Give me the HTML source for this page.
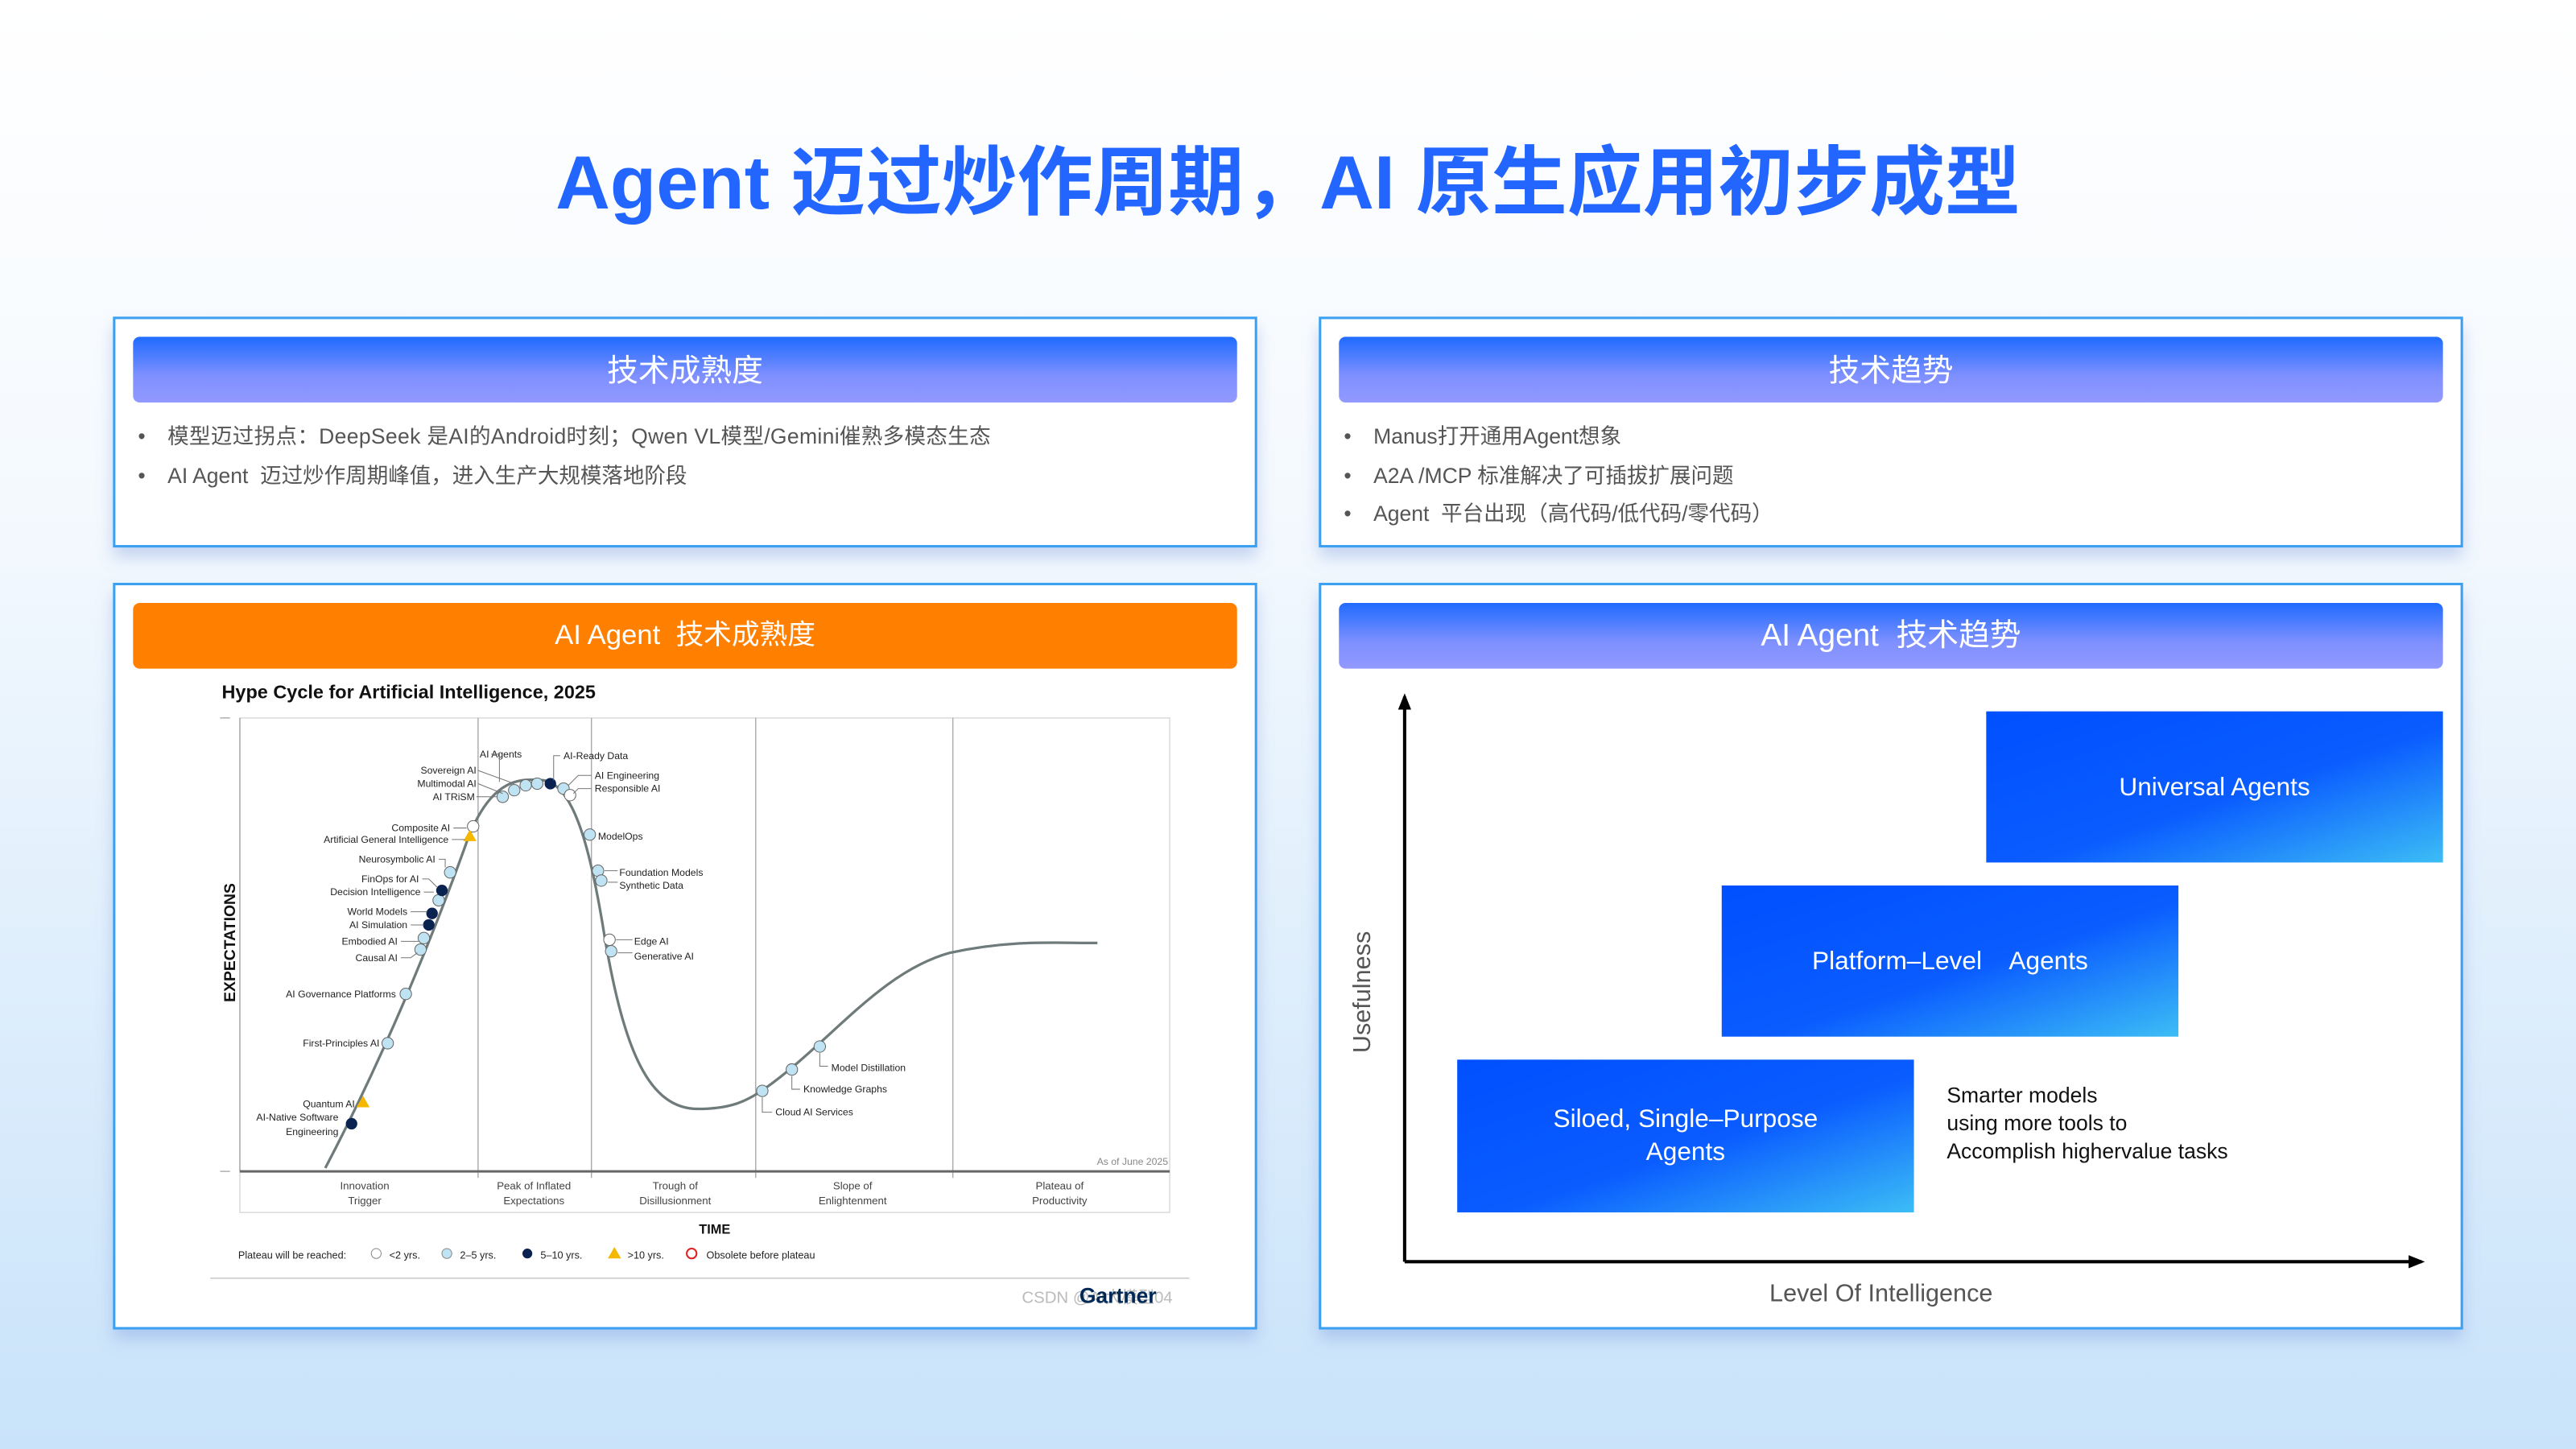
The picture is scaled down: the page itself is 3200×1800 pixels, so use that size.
<!DOCTYPE html>
<html><head><meta charset="utf-8">
<style>
html,body{margin:0;padding:0;width:3200px;height:1800px;overflow:hidden;}
svg{display:block;}
text{font-family:"Liberation Sans","Noto Sans CJK SC",sans-serif;white-space:pre;}
</style></head>
<body>
<svg width="3200" height="1800" viewBox="0 0 1568 882" xmlns="http://www.w3.org/2000/svg" xml:space="preserve">
<defs>
<linearGradient id="bg" x1="0" y1="0" x2="0" y2="1">
<stop offset="0" stop-color="#ffffff"/><stop offset="0.35" stop-color="#f4f9fe"/><stop offset="1" stop-color="#c9e3fa"/>
</linearGradient>
<linearGradient id="hdr" x1="0" y1="0" x2="0" y2="1">
<stop offset="0" stop-color="#1f6bff"/><stop offset="0.6" stop-color="#7f90ff"/><stop offset="1" stop-color="#9299ff"/>
</linearGradient>
<linearGradient id="box" x1="0" y1="0" x2="1" y2="1">
<stop offset="0" stop-color="#0050ff"/><stop offset="0.55" stop-color="#0a5cff"/><stop offset="1" stop-color="#3cbdf5"/>
</linearGradient>
<filter id="sh" x="-5%" y="-5%" width="110%" height="125%"><feDropShadow dx="0" dy="6" stdDeviation="5" flood-color="#6d8fd8" flood-opacity="0.35"/></filter>
<marker id="ar" markerWidth="5" markerHeight="5" refX="4" refY="2.5" orient="auto"><path d="M0,0.5 L5,2.5 L0,4.5 z" fill="#000"/></marker>
</defs>
<rect width="1568" height="882" fill="url(#bg)"/>
<text x="784" y="127" text-anchor="middle" font-size="46" font-weight="bold" fill="#2266ff">Agent 迈过炒作周期，AI 原生应用初步成型</text>

<rect x="69.5" y="193.5" width="695" height="139" fill="#fff" stroke="#3aa0f2" stroke-width="1.5" filter="url(#sh)"/>
<rect x="803.5" y="193.5" width="695" height="139" fill="#fff" stroke="#3aa0f2" stroke-width="1.5" filter="url(#sh)"/>
<rect x="69.5" y="355.5" width="695" height="453" fill="#fff" stroke="#3aa0f2" stroke-width="1.5" filter="url(#sh)"/>
<rect x="803.5" y="355.5" width="695" height="453" fill="#fff" stroke="#3aa0f2" stroke-width="1.5" filter="url(#sh)"/>

<rect x="81" y="205" width="672" height="40" rx="4" fill="url(#hdr)"/>
<text x="417" y="232" text-anchor="middle" font-size="19" fill="#fff">技术成熟度</text>
<rect x="815" y="205" width="672" height="40" rx="4" fill="url(#hdr)"/>
<text x="1151" y="232" text-anchor="middle" font-size="19" fill="#fff">技术趋势</text>
<rect x="81" y="367" width="672" height="40" rx="4" fill="#ff8000"/>
<text x="417" y="392" text-anchor="middle" font-size="17" fill="#fff">AI Agent  技术成熟度</text>
<rect x="815" y="367" width="672" height="40" rx="4" fill="url(#hdr)"/>
<text x="1151" y="393" text-anchor="middle" font-size="19" fill="#fff">AI Agent  技术趋势</text>

<g font-size="13" fill="#555">
<text x="84" y="270">•</text><text x="102" y="270" textLength="501">模型迈过拐点：DeepSeek 是AI的Android时刻；Qwen VL模型/Gemini催熟多模态生态</text>
<text x="84" y="294">•</text><text x="102" y="294">AI Agent  迈过炒作周期峰值，进入生产大规模落地阶段</text>
<text x="818" y="270">•</text><text x="836" y="270">Manus打开通用Agent想象</text>
<text x="818" y="294">•</text><text x="836" y="294">A2A /MCP 标准解决了可插拔扩展问题</text>
<text x="818" y="317">•</text><text x="836" y="317">Agent  平台出现（高代码/低代码/零代码）</text>
</g>

<text x="135" y="425" font-size="11.5" font-weight="bold" fill="#111">Hype Cycle for Artificial Intelligence, 2025</text>
<rect x="146" y="437" width="566" height="301" fill="#fff" stroke="#ddd" stroke-width="0.8"/>
<g stroke="#aaa" stroke-width="0.7">
<line x1="146" y1="437" x2="146" y2="713"/>
<line x1="291" y1="437" x2="291" y2="717"/>
<line x1="360" y1="437" x2="360" y2="717"/>
<line x1="460" y1="437" x2="460" y2="717"/>
<line x1="580" y1="437" x2="580" y2="717"/>
<line x1="134" y1="437" x2="140" y2="437"/>
<line x1="134" y1="713" x2="140" y2="713"/>
</g>
<line x1="146" y1="713" x2="712" y2="713" stroke="#666" stroke-width="1.5"/>
<text transform="translate(143,610) rotate(-90)" font-size="9.5" font-weight="bold" fill="#111">EXPECTATIONS</text>
<path d="M198,711 C 230,650 260,580 285,510 C 300,472 318,474 331,475 C 350,478 360,520 368,570 C 380,640 395,675 425,675 C 445,675 455,670 465,663 C 505,635 535,592 578,580 C 615,572 640,574 668,574" fill="none" stroke="#6f7b7b" stroke-width="1.6"/>
<g stroke="#666" stroke-width="0.5">
<circle cx="236" cy="635" r="3.5" fill="#bfe3f2"/>
<circle cx="247" cy="605" r="3.5" fill="#bfe3f2"/>
<circle cx="256" cy="578" r="3.5" fill="#bfe3f2"/>
<circle cx="258" cy="571" r="3.5" fill="#bfe3f2"/>
<circle cx="267" cy="548" r="3.5" fill="#bfe3f2"/>
<circle cx="274" cy="531" r="3.5" fill="#bfe3f2"/>
<circle cx="288" cy="503" r="3.5" fill="#fff"/>
<circle cx="306" cy="485" r="3.5" fill="#bfe3f2"/>
<circle cx="313" cy="481" r="3.5" fill="#bfe3f2"/>
<circle cx="320" cy="478" r="3.5" fill="#bfe3f2"/>
<circle cx="327" cy="477" r="3.5" fill="#bfe3f2"/>
<circle cx="343" cy="480" r="3.5" fill="#bfe3f2"/>
<circle cx="347" cy="484" r="3.5" fill="#fff"/>
<circle cx="359" cy="508" r="3.5" fill="#bfe3f2"/>
<circle cx="364" cy="530" r="3.5" fill="#bfe3f2"/>
<circle cx="366" cy="536" r="3.5" fill="#bfe3f2"/>
<circle cx="371" cy="572" r="3.5" fill="#fff"/>
<circle cx="372" cy="579" r="3.5" fill="#bfe3f2"/>
<circle cx="464" cy="664" r="3.5" fill="#bfe3f2"/>
<circle cx="482" cy="651" r="3.5" fill="#bfe3f2"/>
<circle cx="499" cy="637" r="3.5" fill="#bfe3f2"/>
</g>
<g fill="#0a2250">
<circle cx="214" cy="684" r="3.5"/><circle cx="261" cy="563" r="3.5"/><circle cx="263" cy="556" r="3.5"/>
<circle cx="269" cy="542" r="3.5"/><circle cx="335" cy="477" r="3.5"/>
</g>
<g fill="#f5b800"><path d="M221,667 L225,674 L217,674z"/><path d="M286,505 L290,512 L282,512z"/></g>
<g font-size="6" fill="#222">
<text x="292" y="461">AI Agents</text><text x="343" y="462">AI-Ready Data</text>
<text x="290" y="471" text-anchor="end">Sovereign AI</text>
<text x="290" y="479" text-anchor="end">Multimodal AI</text>
<text x="289" y="487" text-anchor="end">AI TRiSM</text>
<text x="362" y="474">AI Engineering</text><text x="362" y="482">Responsible AI</text>
<text x="274" y="506" text-anchor="end">Composite AI</text>
<text x="273" y="513" text-anchor="end">Artificial General Intelligence</text>
<text x="265" y="525" text-anchor="end">Neurosymbolic AI</text>
<text x="255" y="537" text-anchor="end">FinOps for AI</text>
<text x="256" y="545" text-anchor="end">Decision Intelligence</text>
<text x="248" y="557" text-anchor="end">World Models</text>
<text x="248" y="565" text-anchor="end">AI Simulation</text>
<text x="242" y="575" text-anchor="end">Embodied AI</text>
<text x="242" y="585" text-anchor="end">Causal AI</text>
<text x="241" y="607" text-anchor="end">AI Governance Platforms</text>
<text x="231" y="637" text-anchor="end">First-Principles AI</text>
<text x="216" y="674" text-anchor="end">Quantum AI</text>
<text x="206" y="682" text-anchor="end">AI-Native Software</text>
<text x="206" y="691" text-anchor="end">Engineering</text>
<text x="364" y="511">ModelOps</text>
<text x="377" y="533">Foundation Models</text><text x="377" y="541">Synthetic Data</text>
<text x="386" y="575">Edge AI</text><text x="386" y="584">Generative AI</text>
<text x="506" y="652">Model Distillation</text>
<text x="489" y="665">Knowledge Graphs</text>
<text x="472" y="679">Cloud AI Services</text>
<text x="711" y="709" text-anchor="end" fill="#888">As of June 2025</text>
</g>
<g fill="none" stroke="#777" stroke-width="0.5">
<path d="M299,459 h5 v17"/><path d="M341,460 h-4 v15"/>
<path d="M291,469 l22,8"/><path d="M291,477 l15,6"/><path d="M290,485 h13"/>
<path d="M360,472 h-8 l-6,6"/><path d="M360,480 h-8 l-3,3"/>
<path d="M276,504 h8"/><path d="M275,511 h8"/>
<path d="M267,523 h4 v5"/><path d="M257,535 h4 l5,5"/><path d="M258,543 h6"/>
<path d="M250,555 h10"/><path d="M250,563 h8"/><path d="M244,573 h11"/><path d="M244,583 h6 l4,-3"/>
<path d="M368,530 h8"/><path d="M370,537 h6"/><path d="M375,572 h10"/><path d="M376,580 h9"/>
<path d="M499,641 v8 h5"/><path d="M482,655 v8 h5"/><path d="M464,668 v9 h6"/>
</g>
<g font-size="6.5" fill="#444" text-anchor="middle">
<text x="222" y="724">Innovation</text><text x="222" y="733">Trigger</text>
<text x="325" y="724">Peak of Inflated</text><text x="325" y="733">Expectations</text>
<text x="411" y="724">Trough of</text><text x="411" y="733">Disillusionment</text>
<text x="519" y="724">Slope of</text><text x="519" y="733">Enlightenment</text>
<text x="645" y="724">Plateau of</text><text x="645" y="733">Productivity</text>
</g>
<text x="435" y="751" text-anchor="middle" font-size="8" font-weight="bold" fill="#111">TIME</text>
<g font-size="6.2" fill="#222">
<text x="145" y="766">Plateau will be reached:</text>
<circle cx="229" cy="763" r="3" fill="#fff" stroke="#888" stroke-width="0.5"/><text x="237" y="766">&lt;2 yrs.</text>
<circle cx="272" cy="763" r="3" fill="#bfe3f2" stroke="#888" stroke-width="0.5"/><text x="280" y="766">2–5 yrs.</text>
<circle cx="321" cy="763" r="3" fill="#0a2250"/><text x="329" y="766">5–10 yrs.</text>
<path d="M374,759 L378,766 L370,766z" fill="#f5b800"/><text x="382" y="766">&gt;10 yrs.</text>
<circle cx="421" cy="763" r="3" fill="#fff" stroke="#e02020" stroke-width="1"/><text x="430" y="766">Obsolete before plateau</text>
</g>
<line x1="128" y1="778" x2="724" y2="778" stroke="#ccc" stroke-width="0.8"/>
<text x="622" y="793" font-size="10" fill="#bbb">CSDN @AI大模型04</text>
<text x="657" y="793" font-size="13" font-weight="bold" fill="#002856">Gartner</text>

<line x1="855" y1="768" x2="855" y2="424" stroke="#000" stroke-width="2" marker-end="url(#ar)"/>
<line x1="855" y1="768" x2="1474" y2="768" stroke="#000" stroke-width="2" marker-end="url(#ar)"/>
<rect x="1209" y="433" width="278" height="92" fill="url(#box)"/>
<rect x="1048" y="539" width="278" height="92" fill="url(#box)"/>
<rect x="887" y="645" width="278" height="93" fill="url(#box)"/>
<g font-size="15.5" fill="#fff" text-anchor="middle">
<text x="1348" y="484">Universal Agents</text>
<text x="1187" y="590">Platform–Level    Agents</text>
<text x="1026" y="686">Siloed, Single–Purpose</text>
<text x="1026" y="706">Agents</text>
</g>
<g font-size="13" fill="#111">
<text x="1185" y="671">Smarter models</text>
<text x="1185" y="688">using more tools to</text>
<text x="1185" y="705">Accomplish highervalue tasks</text>
</g>
<text transform="translate(834,641) rotate(-90)" font-size="15" fill="#555">Usefulness</text>
<text x="1145" y="792" text-anchor="middle" font-size="15" fill="#555">Level Of Intelligence</text>
</svg>
</body></html>
